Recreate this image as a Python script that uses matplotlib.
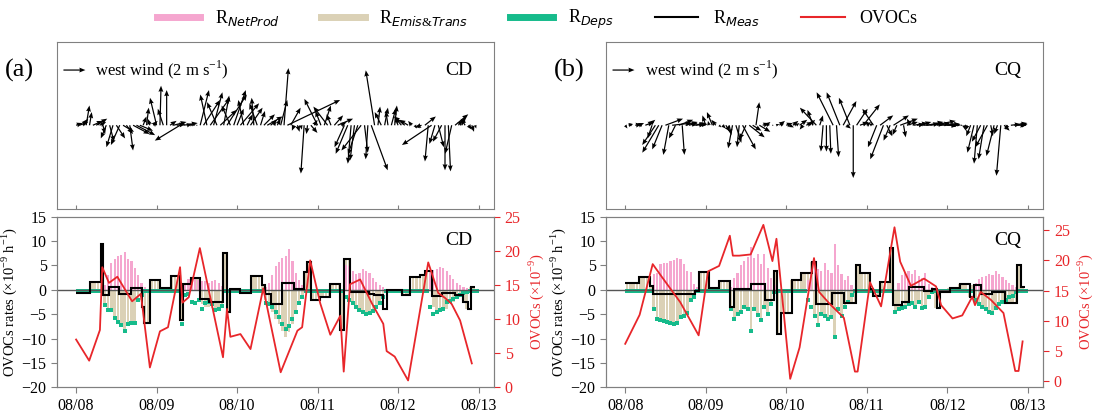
import numpy as np
import matplotlib
matplotlib.use('Agg')
import matplotlib.pyplot as plt
from matplotlib.lines import Line2D

plt.rcParams['font.family'] = ['Liberation Serif', 'DejaVu Sans']
plt.rcParams['mathtext.fontset'] = 'custom'
plt.rcParams['mathtext.rm'] = 'Liberation Serif'
plt.rcParams['mathtext.it'] = 'DejaVu Sans:italic'
plt.rcParams['mathtext.bf'] = 'Liberation Serif:bold'

hours = np.arange(120)
day_ticks = [0, 24, 48, 72, 96, 120]
day_labels = ['08/08', '08/09', '08/10', '08/11', '08/12', '08/13']

# ---------- CD (a) ----------
u_cd = [0.6, 0.8, 0.5, 0.3, 0.2, 0.9, 1.0, 0.6,
        0.2, -0.5, 0.4, -0.6, 0.8, -0.8, 1.0, 0.6, 0.3, 1.5, 1.7, 1.2,
        0.3, 0.2, -0.2, 0.4,
        -0.6, 0.1, -0.5, 0.0, 0.6, 1.2, 0.8, -2.3, 1.3, 0.5, 0.3, 0.2, 0.1,
        0.8, 1.5, -0.6, 1.8, 0.8, -0.9, 1.5, 0.5, 1.8, -0.8, 1.1, 0.6, 1.7, -0.5, 0.5, 1.1, -0.2, -0.7, 0.4, 1.0, 1.4, 0.6, 0.2,
        0.3, 0.6, 0.4, 4.8, 0.9, -0.2, 0.2, 0.1, -0.3, -0.1, 0.6, 0.3,
        -1.2, -0.5, 0.6, -1.3, -0.4, 0.8, 1.4, 0.5,
        -0.9, -1.1, -0.3, -0.4, -0.9, -1.8, 0.3, -0.2, 1.5, -0.8,
        0.2, -0.6, 0.3, -0.2, 0.4, 0.2, -0.3, -0.6, -1.0, -0.8, -0.3, 0.2, 0.1, -0.6,
        1.0, -0.3, -2.7, -0.5, 0.5, -0.8, 0.0, 0.2, -0.6, 1.2, 0.4, 0.3, -0.4, 0.3, 0.2, 0.1]
v_cd = [0.2, 0.3, 0.6, 1.8, 1.2, 0.4, 0.6, 0.3,
        -0.8, -1.2, -1.5, -2.0, -1.2, -1.8, -0.6, -0.8, -2.3, -0.8, -0.9, -0.5,
        0.8, 1.6, 0.6, 0.4,
        2.5, 3.6, 1.5, 3.2, 0.4, 0.3, 0.1, -1.4, 0.2, 0.1, 0.1, 0.05, 0.0,
        3.2, 2.3, 2.8, 2.5, 3.0, 2.1, 1.4, 2.7, 2.8, 1.8, 3.2, 1.5, 2.0, 2.3, 1.0, 1.6, 2.5, 2.0, 1.3, 1.0, 0.8, 0.5, 0.3,
        0.6, 2.3, 5.2, 2.3, 1.6, -0.5, -0.6, -0.4, -4.4, -0.8, -0.7, 0.5,
        2.4, 1.3, 1.8, 1.7, 1.0, 0.9, 0.6, 0.3,
        -2.0, -2.6, -3.5, -3.2, -2.7, -2.3, -2.5, -3.1, -4.1, 5.0,
        1.7, 1.2, 1.6, 1.3, 1.5, 1.8, 0.8, 0.7, 0.8, 0.5, 0.4, -0.3, -0.3, -0.2,
        0.8, -3.3, -1.8, -1.7, -2.0, -1.5, -4.1, -4.2, -2.6, 1.0, 0.5, 0.8, 0.6, -0.4, -0.6, -0.3]

netprod_cd = [0, 0, 0, 0, 0, 0, 0, 0,
              1.0, 3.0, 5.5, 6.3, 7.0, 7.2, 7.7, 6.3, 6.0, 4.5, 3.0, 1.5, 0.5,
              0, 0, 0, 0, 0, 0, 0, 0, 0, 0, 0,
              1.2, 2.3, 2.5, 2.2, 2.0, 1.8, 1.8, 1.5, 1.8, 2.0, 1.5, 0.8,
              0, 0, 0, 0, 0, 0, 0, 0, 0, 0, 0, 0,
              0.5, 1.5, 3.0, 4.8, 5.8, 6.5, 7.0, 8.3, 6.0, 3.5, 2.0, 1.0,
              0, 0, 0, 0, 0, 0, 0, 0, 0, 0, 0, 0,
              5.1, 4.8, 3.9, 3.3, 3.5, 4.2, 3.9, 3.4, 2.4, 1.7, 1.0, 0.5,
              0, 0, 0, 0, 0, 0, 0, 0, 0, 0, 0, 0, 0,
              3.5, 4.0, 4.3, 4.6, 4.4, 3.8, 3.0, 2.2, 1.5, 1.0, 0.6, 0.4,
              0, 0, 0]
emis_cd = [-0.7, -0.7, -0.7, -0.7, 1.6, 1.6, 1.6, 9.4,
           -3.0, -4.0, -4.5, -5.5, -6.3, -7.0, -8.0, -6.8, -6.5, -6.5, -2.5, -2.0,
           -6.9, -6.9, 2.0, 2.0, 2.0, 0.4, 0.4, 0.4, 2.9, 2.9, 2.9, -6.2,
           1.1, 1.1, 2.5, 2.5, 2.5, -3.0, -3.5, -3.5, -3.8, -4.2, -4.2, -3.5,
           7.5, -4.5, 0.2, 0.2, 0.2, -0.7, -0.7, -0.7, 2.9, 2.9, 2.9, 1.0,
           -2.0, -3.0, -4.5, -6.0, -7.0, -8.5, -9.7, -8.7, -7.0, -5.0, -3.0, -1.5,
           3.7, 5.8, -2.0, -2.0, -1.5, -1.5, -1.5, -1.5, 1.2, 1.2, 1.2, -8.2,
           6.3, 6.3, -2.5, -3.3, -3.8, -4.2, -4.6, -4.8, -4.4, -3.8, -3.0, -3.9,
           -0.1, -0.1, -0.1, -0.1, -0.1, -1.1, -1.1, -1.1, 2.6, 2.6, 2.6, 3.0, 3.9, 3.9,
           -3.5, -4.9, -4.6, -4.1, -3.9, -2.8, -2.5, -1.8, -1.5, -2.5, -3.9,
           0.5, 0.5, 0.0]
deps_cd = [-0.2, -0.2, -0.2, -0.2, -0.2, -0.2, -0.2, -0.2,
           -3.2, -4.2, -4.2, -5.8, -6.6, -7.2, -8.4, -7.0, -6.8, -6.8, -2.0, -1.1,
           -0.2, -0.2, -0.2, -0.2, -0.2, -0.2, -0.2, -0.2, -0.2, -0.2, -0.2,
           -7.0, -1.0, -0.8,
           -2.4, -2.8, -2.0, -3.9, -2.8, -2.5, -3.0, -4.2, -3.9, -3.4,
           -0.2, -0.2, -0.2, -0.2, -0.2, -0.2, -0.2, -0.2, -0.2, -0.2, -0.2, -0.2,
           -2.7, -3.0, -3.5, -4.5, -5.5, -7.0, -8.0, -7.5, -6.0, -4.5, -2.8, -1.5,
           -0.2, -0.2, -0.2, -0.2, -0.2, -0.2, -0.2, -0.2, -0.2, -0.2, -0.2, -0.2,
           -1.5, -2.0, -2.8, -3.5, -4.2, -4.5, -4.9, -4.8, -4.4, -3.5, -2.7, -1.5,
           -0.2, -0.2, -0.2, -0.2, -0.2, -0.2, -0.2, -0.2, -0.2, -0.2, -0.2, -0.2, -0.2,
           -3.5, -4.9, -4.6, -4.1, -3.9, -2.5, -2.3, -1.8, -1.5, -1.1, -0.6, -0.4,
           -0.2, -0.2, -0.2]
meas_edges_cd = [0, 4, 7.3, 8.1, 9.9, 12.7, 16.5, 19.6, 20.3, 22.1,
                 25, 28.2, 31.1, 31.8, 34.2, 37, 39.7, 43.8, 44.9, 45.9,
                 49, 52.2, 55.3, 56.4, 58, 61.4, 65, 67.9, 68.9, 70.1,
                 72.8, 75.8, 78.8, 79.8, 81.7, 87.2, 88.7, 91.6, 92.6, 97.1,
                 99.6, 102.6, 104.1, 106.1, 109.1, 113, 115.5, 117, 117.8, 118.8]
meas_cd = [-0.7, 1.6, 9.4, -1.0, 0.5, -0.8, 0.4, -3.5, -6.9, 2.0,
           0.4, 2.9, -6.2, 1.1, 2.5, -1.9, -2.6, 7.5, -4.5, 0.2,
           -0.7, 2.9, 1.0, -0.8, -3.0, 1.5, 0.1, 3.7, 5.8, -2.0,
           -1.5, 1.2, -8.2, 6.3, -0.4, -0.8, -1.1, -3.9, 0.0, -1.1,
           2.6, 3.0, 3.9, -1.3, -0.6, -1.1, -2.5, -3.9, 0.5]
ovoc_t_cd = [0, 3.9, 7.1, 7.8, 9.8, 12.3, 16.7, 19.3, 22.0, 25.0,
             27.4, 31.0, 31.7, 33.6, 36.9, 43.8, 45.0, 46.0, 49.0, 52.0,
             55.8, 61.0, 66.0, 67.4, 69.8, 72.8, 75.8, 78.8, 79.8, 81.7,
             84.7, 88.2, 91.6, 92.6, 95.0, 99.0, 105.0, 108.0, 110.0, 112.0,
             114.5, 118.0]
ovoc_cd = [7.0, 3.9, 8.4, 17.6, 15.3, 16.2, 12.6, 13.7, 2.9, 8.2,
           8.8, 17.6, 12.4, 13.2, 20.4, 4.4, 11.5, 7.4, 7.8, 5.6,
           14.5, 2.2, 8.3, 8.8, 18.6, 12.3, 7.7, 10.5, 2.3, 15.1,
           15.8, 12.3, 9.3, 5.3, 4.5, 1.0, 18.3, 13.8, 13.1, 12.2,
           9.8, 3.5]

# ---------- CQ (b) ----------
u_cq = [0.2, 0.4, -0.3, 0.6, 0.5, -0.4, 0.8, 0.6,
        -0.4, -1.2, -1.5, -0.9, 1.6, -0.5, 1.8, -0.6, 1.3, 0.2, 1.1, 0.8,
        1.4, 0.9, 0.5, 0.3, -0.3, -0.1, -0.5, -0.4, 0.2, 0.3, 0.4, 0.2,
        -0.4, 0.5, -0.2, 1.2, -0.6, 1.4, 0.8, 0.3, 1.0, 0.6, 0.4, -0.2,
        0.1, 0.3, 0.5, -0.3, 0.6, 0.4, 0.5, 0.3, 0.7, -0.3, 0.6, 0.5,
        -0.5, -1.5, 0.3, -0.2, 0.0, 0.1, -1.5, 0.2, -1.2, 1.2, 0.4, -1.0,
        0.0, 1.0, 0.8, 1.5, 0.4, 0.3, -1.0, -0.8, 1.2, -1.2, 0.5, -0.6,
        1.4, -0.4, 1.6, 0.2, 1.0, -0.3, 1.3, 0.7, 1.0, 1.9, 1.5, 0.8,
        2.0, 1.2, 1.8, 1.5, 1.0, 0.6, 0.4, 0.3, 0.2, 0.1, -0.2, -0.4,
        -0.6, -0.3, -0.8, -0.5, -1.1, 0.2, -0.7, -0.3, -0.4, 0.5, -0.2, 0.9, 1.2, 0.8, 0.6, 0.2]
v_cq = [-0.3, 0.1, 0.2, 0.1, 0.2, 0.1, 0.3, 0.5,
        -1.2, -1.8, -2.5, -2.2, 0.6, -2.7, 0.2, -1.2, 0.5, -2.7, 0.3, 0.2,
        0.1, 0.2, 0.1, 0.0, 0.9, 0.4, 1.2, 0.5, -0.2, -0.3, -0.6, -0.9,
        -2.1, -1.6, -2.0, -2.2, -1.3, -1.1, -0.5, 2.1, -0.6, 0.2, 0.3, 0.1,
        0.0, 0.1, 0.4, 0.3, 0.2, -0.2, 0.4, 0.2, 0.5, -0.4, 0.3, 0.5,
        1.4, 1.6, 0.9, -2.4, -2.4, -2.6, 3.0, -2.9, 3.0, 2.2, -0.3, 2.5,
        -4.8, 1.5, 0.3, 1.9, 0.3, 0.2, 1.5, -2.0, 0.9, -3.1, -1.0, -1.4,
        0.9, -0.9, 0.6, -1.1, 0.3, 0.6, 0.2, 0.1, 0.3, 0.1, 0.3, 0.2,
        0.4, 0.2, 0.1, 0.1, 0.0, 0.0, 0.0, 0.0, 0.0, -0.4, -0.5, -1.0,
        -2.5, -3.5, -1.5, -3.1, -2.0, -1.0, -2.8, -0.8, -4.6, -0.5, -0.4, 0.1, 0.2, 0.0, 0.1, 0.0]

netprod_cq = [0, 0, 0, 0, 0, 0, 0, 0,
              3.2, 3.5, 5.3, 5.5, 5.6, 6.0, 6.2, 6.5, 6.3, 5.2, 3.8, 3.7, 1.2, 0.5,
              0, 0, 0, 0, 0, 0, 0, 0, 0,
              0.5, 2.5, 3.5, 5.0, 6.0, 6.8, 8.8, 6.5, 7.3, 5.3, 7.3, 4.5, 2.5, 1.0,
              0, 0, 0, 0, 0, 0, 0, 0, 0,
              2.0, 4.2, 5.0, 4.2, 3.8, 5.5, 4.0, 3.5, 9.3, 5.0, 3.2, 2.0, 2.8, 1.0,
              0, 0, 0, 0, 0, 0, 0, 0, 0, 0, 0, 0, 0,
              1.5, 3.0, 3.5, 3.8, 3.3, 4.0, 2.8, 2.5, 3.5, 1.2, 0.5,
              0, 0, 0, 0, 0, 0, 0, 0, 0, 0, 0, 0,
              1.5, 2.2, 2.6, 2.9, 3.3, 3.0, 3.9, 3.3, 2.6, 2.0, 1.5, 1.0, 0.6,
              0, 0, 0]
emis_cq = [1.4, 1.4, 1.4, 1.4, 2.7, 2.7, 2.7, 0.7,
           -4.0, -6.0, -6.2, -6.5, -6.7, -6.9, -7.0, -6.8, -5.5, -5.3, -4.8, -2.0, -1.5,
           -0.3, 3.6, 3.6, 3.6, 0.4, 0.4, 0.4, 1.8, 1.8, 1.8,
           -4.0, -6.0, -5.0, -4.5, -3.5, -4.0, -8.4, -4.0, -5.2, -6.2, -3.5, -5.0, -3.0,
           3.9, -9.0, -4.7, -4.7, -4.7, 2.0, 2.0, 2.0, 3.4, 3.4, 3.4, 5.7,
           -5.3, -7.2, -5.0, -5.3, -6.0, -5.6, -9.6, -4.0, -5.3, -3.5, -2.7, -2.7,
           -2.7, 5.1, 3.4, 3.4, 3.4, 0.1, -1.3, -1.3, 1.7, 1.7, 1.7, 8.6,
           -4.5, -4.0, -3.8, -3.5, -3.0, -2.8, -3.5, -2.5, -3.8, -3.5, -1.5, -0.5,
           -3.7, -0.4, -0.4, -0.4, 0.3, 0.3, 0.3, 1.2, 1.2, 1.2, -1.5, 1.0,
           -2.0, -3.0, -3.5, -4.0, -4.5, -4.8, -3.8, -3.0, -2.8, -2.8, -2.8, -2.8, -2.8,
           5.1, 0.5, 0.0]
deps_cq = [-0.3, -0.3, -0.3, -0.3, -0.3, -0.3, -0.3, -0.3,
           -4.0, -6.0, -6.2, -6.5, -6.7, -6.9, -7.0, -6.8, -5.5, -5.3, -4.8, -2.0, -1.5,
           -0.3, -0.3, -0.3, -0.3, -0.3, -0.3, -0.3, -0.3, -0.3, -0.3,
           -4.0, -6.0, -5.0, -4.5, -3.5, -4.0, -8.4, -4.0, -5.2, -6.2, -3.5, -5.0, -3.0, -0.5,
           -0.3, -0.3, -0.3, -0.3, -0.3, -0.3, -0.3, -0.3, -0.3,
           -2.0, -3.5, -5.3, -7.2, -5.0, -5.3, -6.0, -5.6, -9.6, -4.0, -5.3, -3.5, -2.5, -1.0,
           -0.3, -0.3, -0.3, -0.3, -0.3, -0.3, -0.3, -0.3, -0.3, -0.3, -0.3, -0.3,
           -4.5, -4.0, -3.8, -3.5, -3.0, -2.8, -3.5, -2.5, -3.8, -3.5, -1.5, -0.5,
           -0.3, -0.3, -0.3, -0.3, -0.3, -0.3, -0.3, -0.3, -0.3, -0.3, -0.3, -0.3,
           -2.0, -3.0, -3.5, -4.0, -4.5, -4.8, -3.8, -3.0, -2.6, -2.0, -1.5, -1.2, -0.5,
           -0.3, -0.3, -0.3]
meas_edges_cq = [0, 4, 7.3, 8.3, 20.9, 22.1, 25, 28, 31.3, 32.3,
                 37.6, 41.7, 44.3, 45.4, 46.4, 49.6, 52.4, 55.8, 56.9, 61.6,
                 65.1, 68.8, 70.1, 73.0, 74.0, 76.0, 79.0, 80.0, 82.5, 84.5,
                 89.0, 91.4, 92.9, 93.9, 96.9, 99.9, 102.9, 103.9, 106.2, 109.4,
                 113.3, 116.8, 118.1, 119.1]
meas_cq = [1.4, 2.7, 0.7, -0.8, -0.3, 3.6, 0.4, 1.8, -3.6, 0.2,
           1.2, -2.0, 3.9, -9.0, -4.7, 2.0, 3.4, 5.7, -2.9, -0.6,
           -2.7, 5.1, 3.4, 0.1, -1.3, 1.7, 8.6, -3.2, -2.5, 0.5,
           -0.2, 0.2, -3.7, -0.4, 0.3, 1.2, -1.5, 1.0, -0.8, -0.4,
           -2.8, 5.1, 0.5]
ovoc_t_cq = [0, 4.3, 8.2, 10.9, 16.4, 21.9, 24.7, 28.0, 31.2, 32.1,
             34.0, 37.4, 41.2, 43.9, 45.1, 49.2, 52.0, 56.3, 57.8, 61.0,
             65.2, 68.5, 69.3, 73.0, 76.3, 80.3, 82.0, 85.2, 89.1, 92.7,
             94.2, 97.6, 100.5, 103.5, 104.3, 106.0, 109.0, 112.8, 116.3, 117.3,
             118.5]
ovoc_cq = [6.2, 11.0, 19.4, 17.3, 13.1, 7.6, 18.2, 19.1, 24.1, 20.8,
           20.8, 21.0, 25.9, 19.9, 23.6, 0.4, 5.6, 20.4, 14.8, 12.8,
           10.5, 1.6, 1.6, 16.4, 12.4, 25.5, 19.8, 15.8, 17.0, 15.7,
           12.6, 10.4, 10.9, 14.0, 12.6, 14.8, 13.5, 11.3, 1.7, 1.7,
           6.6]

PINK = '#f5a6cf'
TAN = '#dbd1b6'
GREEN = '#16bb8b'
RED = '#e8262a'
SPINE = '#808080'

fig = plt.figure(figsize=(10.96, 4.12), dpi=100)


def draw_site(x0, site, u, v, netprod, emis, deps, m_edges, meas, o_t, o_v, o_lim):
    w = 0.399
    # wind panel
    axw = fig.add_axes([x0, 0.493, w, 0.406])
    q = axw.quiver(hours, np.zeros(120), u, v, angles='uv', scale_units='inches',
                   scale=9.1, width=0.0028, headwidth=4, headlength=5,
                   headaxislength=4.5, pivot='tail', color='black')
    axw.quiverkey(q, 0.065, 0.83, 2, 'west wind (2 m s$^{-1}$)', labelpos='E',
                  coordinates='axes', fontproperties={'size': 12})
    axw.set_xlim(-5.7, 124.7)
    axw.set_ylim(-1, 1)
    axw.set_xticks(day_ticks)
    axw.set_xticklabels([])
    axw.set_yticks([])
    axw.tick_params(axis='x', direction='in', length=3, color=SPINE)
    for s in axw.spines.values():
        s.set_color(SPINE)
    axw.text(0.95, 0.83, site, transform=axw.transAxes, ha='right', va='center', fontsize=14)

    # budget panel
    ax = fig.add_axes([x0, 0.06, w, 0.414])
    ax.bar(hours + 0.5, emis, width=0.8, color=TAN, zorder=2)
    ax.bar(hours + 0.5, netprod, width=0.65, color=PINK, zorder=2.5)
    ax.scatter(hours + 0.5, deps, marker='s', s=7, color=GREEN, linewidths=0, zorder=3)
    ax.axhline(0, color='#555555', lw=1, zorder=3.5)
    ax.stairs(meas, m_edges, baseline=None, color='black', lw=1.5, zorder=4)
    ax.set_xlim(-5.7, 124.7)
    ax.set_ylim(-20, 15)
    ax.set_yticks([-20, -15, -10, -5, 0, 5, 10, 15])
    ax.set_xticks(day_ticks)
    ax.set_xticklabels(day_labels)
    ax.tick_params(labelsize=11.5, color=SPINE, length=4)
    ax.set_ylabel('OVOCs rates (×10$^{-9}$ h$^{-1}$)', fontsize=10.5, labelpad=2)
    for s in ax.spines.values():
        s.set_color(SPINE)
    ax.text(0.95, 0.86, site, transform=ax.transAxes, ha='right', va='center', fontsize=14, zorder=6)

    ax2 = ax.twinx()
    ax2.plot(o_t, o_v, color=RED, lw=1.3)
    ax2.set_ylim(*o_lim)
    ax2.set_yticks([0, 5, 10, 15, 20, 25])
    ax2.tick_params(axis='y', colors=RED, labelsize=11.5, length=4)
    ax2.set_ylabel('OVOCs (×10$^{-9}$)', color=RED, fontsize=10.5, labelpad=4)
    for s in ax2.spines.values():
        s.set_color(SPINE)


draw_site(0.052, 'CD', u_cd, v_cd, netprod_cd, emis_cd, deps_cd,
          meas_edges_cd, meas_cd, ovoc_t_cd, ovoc_cd, (0, 25))
draw_site(0.553, 'CQ', u_cq, v_cq, netprod_cq, emis_cq, deps_cq,
          meas_edges_cq, meas_cq, ovoc_t_cq, ovoc_cq, (-1.0, 27.25))

fig.text(0.004, 0.83, '(a)', fontsize=19, va='center')
fig.text(0.505, 0.83, '(b)', fontsize=19, va='center')

handles = [Line2D([], [], color=PINK, lw=5),
           Line2D([], [], color=TAN, lw=5),
           Line2D([], [], color=GREEN, lw=5),
           Line2D([], [], color='black', lw=1.5),
           Line2D([], [], color=RED, lw=1.5)]
labels = ['R$_{NetProd}$', 'R$_{Emis&Trans}$', 'R$_{Deps}$', 'R$_{Meas}$', 'OVOCs']
fig.legend(handles, labels, loc='upper center', bbox_to_anchor=(0.49, 1.02), ncol=5,
           frameon=False, fontsize=13, columnspacing=2.3, handlelength=2.4)

fig.savefig('out.png', dpi=100)
